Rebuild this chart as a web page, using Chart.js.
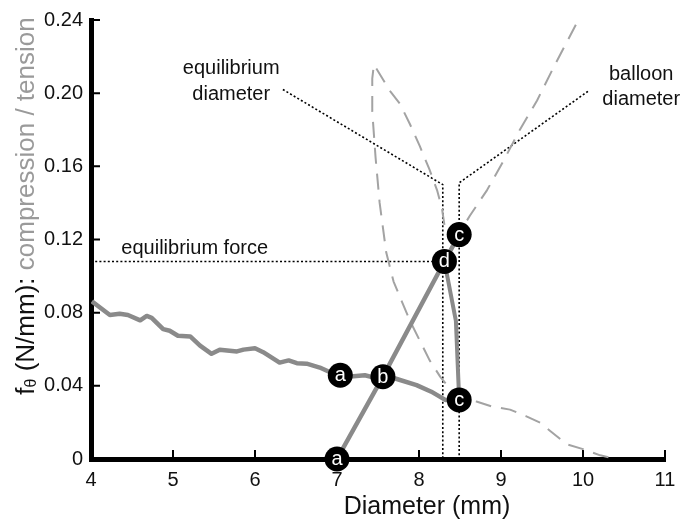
<!DOCTYPE html>
<html>
<head>
<meta charset="utf-8">
<script src="https://cdn.jsdelivr.net/npm/chart.js@4.4.1/dist/chart.umd.min.js"></script>
<style>
    html, body {
        margin: 0;
        padding: 0;
        background: #fff;
    }

    #chart-box {
        width: 694px;
        height: 520px;
        position: relative;
    }
</style>
</head>
<body>
<div id="chart-box">
    <canvas id="hoop-chart"></canvas>
</div>
<script>
// tension curve (solid grey, wavy)
const tensionX = [4.01, 4.23, 4.35, 4.45, 4.60, 4.68, 4.74, 4.88, 4.96, 5.06, 5.21, 5.33, 5.47, 5.57,
    5.78, 5.86, 6.00, 6.10, 6.30, 6.41, 6.51, 6.63, 6.79, 6.95, 7.04, 7.20, 7.34, 7.44, 7.56, 7.71,
    7.97, 8.15, 8.32, 8.49];
const tensionY = [0.0862, 0.0787, 0.0794, 0.0787, 0.0758, 0.0782, 0.0772, 0.0710, 0.0701, 0.0674,
    0.0670, 0.0620, 0.0575, 0.0597, 0.0588, 0.0598, 0.0605, 0.0584, 0.0527, 0.0539, 0.0524, 0.0521,
    0.0500, 0.0467, 0.0458, 0.0453, 0.0458, 0.0446, 0.0449, 0.0440, 0.0404, 0.0368, 0.0323, 0.0323];

// compression curve (dashed grey)
const compressionX = [10.31, 10.21, 10.0, 9.80, 9.60, 9.48, 9.31, 9.11, 8.89, 8.70, 8.52, 8.36, 8.26,
    8.13, 8.01, 7.89, 7.79, 7.69, 7.60, 7.52, 7.47, 7.43, 7.43, 7.45, 7.65, 7.77, 7.89, 8.01, 8.13,
    8.22, 8.28, 8.31, 8.40, 8.50, 8.62, 8.83, 9.03, 9.23, 9.44, 9.64, 9.92, 9.95];
const compressionY = [0.001, 0.002, 0.0054, 0.0081, 0.0153, 0.0198, 0.0233, 0.027, 0.0287, 0.0314,
    0.034, 0.0395, 0.0449, 0.0539, 0.0647, 0.0755, 0.0862, 0.097, 0.113, 0.140, 0.165, 0.190, 0.208,
    0.2156, 0.201, 0.194, 0.183, 0.171, 0.158, 0.147, 0.137, 0.128, 0.122, 0.124, 0.133, 0.147,
    0.163, 0.180, 0.196, 0.214, 0.238, 0.240];

// inflation path a -> b -> d -> c and relaxation d -> c
const inflateX = [7.0, 7.56, 8.31, 8.49];
const inflateY = [0.0, 0.045, 0.108, 0.1227];
const relaxX = [8.31, 8.45, 8.49];
const relaxY = [0.108, 0.0755, 0.0323];

// labelled states
const stateX = [7.0, 7.04, 7.56, 8.31, 8.49, 8.49];
const stateY = [0.0, 0.0458, 0.045, 0.108, 0.1227, 0.0323];
const stateLabels = ['a', 'a', 'b', 'd', 'c', 'c'];

// dotted guides
const forceGuideX = [4.0, 8.31];
const forceGuideY = [0.108, 0.108];
const eqGuideX = [6.34, 8.29, 8.29];
const eqGuideY = [0.202, 0.150, 0.0];
const balloonGuideX = [10.06, 8.49, 8.49];
const balloonGuideY = [0.201, 0.151, 0.0];

// axes
const xTickValues = [4, 5, 6, 7, 8, 9, 10, 11];
const xTickLabels = ['4', '5', '6', '7', '8', '9', '10', '11'];
const yTickValues = [0, 0.04, 0.08, 0.12, 0.16, 0.20, 0.24];
const yTickLabels = ['0', '0.04', '0.08', '0.12', '0.16', '0.20', '0.24'];

const FONT = '"Liberation Sans", Arial, Helvetica, sans-serif';

function toPoints(xs, ys) {
    return xs.map((x, i) => ({ x, y: ys[i] }));
}

function lineSet(xs, ys, style) {
    return Object.assign({
        type: 'scatter',
        data: toPoints(xs, ys),
        showLine: true,
        fill: false,
        tension: 0,
        pointRadius: 0,
        pointHoverRadius: 0,
        borderCapStyle: 'butt',
        borderJoinStyle: 'round'
    }, style);
}

const dotted = { borderColor: '#000', borderWidth: 1.6, borderDash: [2, 2.2], order: 4 };
const solidGrey = { borderColor: '#8a8a8a', borderWidth: 4.5, order: 2 };

const insideTicks = {
    id: 'insideTicks',
    beforeDatasetsDraw(chart) {
        const { ctx, chartArea, scales } = chart;
        ctx.save();
        ctx.strokeStyle = '#000';
        ctx.lineWidth = 2;
        ctx.beginPath();
        xTickValues.forEach(v => {
            const px = scales.x.getPixelForValue(v);
            ctx.moveTo(px, chartArea.bottom);
            ctx.lineTo(px, chartArea.bottom - 9);
        });
        yTickValues.forEach(v => {
            const py = scales.y.getPixelForValue(v);
            ctx.moveTo(chartArea.left, py);
            ctx.lineTo(chartArea.left + 9, py);
        });
        ctx.stroke();
        ctx.restore();
    }
};

const annotations = {
    id: 'annotations',
    afterDraw(chart) {
        const { ctx, scales } = chart;
        const sx = v => scales.x.getPixelForValue(v);
        const sy = v => scales.y.getPixelForValue(v);
        ctx.save();

        // letters in the black circles
        const meta = chart.getDatasetMeta(0);
        ctx.fillStyle = '#fff';
        ctx.font = '20px ' + FONT;
        ctx.textAlign = 'center';
        ctx.textBaseline = 'middle';
        meta.data.forEach((pt, i) => {
            ctx.fillText(stateLabels[i], pt.x, pt.y + 0.5);
        });

        // guide labels
        ctx.fillStyle = '#111';
        ctx.font = '20px ' + FONT;
        ctx.textAlign = 'left';
        ctx.fillText('equilibrium force', sx(4.37), sy(0.115));
        ctx.textAlign = 'center';
        ctx.fillText('equilibrium', sx(5.71), sy(0.2135));
        ctx.fillText('diameter', sx(5.71), sy(0.1995));
        ctx.fillText('balloon', sx(10.71), sy(0.210));
        ctx.fillText('diameter', sx(10.71), sy(0.1965));

        // x title
        ctx.font = '25px ' + FONT;
        ctx.fillStyle = '#111';
        ctx.fillText('Diameter (mm)', 427, 507);

        // y title, two colours, rotated
        ctx.translate(27, 206);
        ctx.rotate(-Math.PI / 2);
        ctx.textAlign = 'left';
        ctx.textBaseline = 'middle';
        const big = '26px ' + FONT;
        const small = '16px ' + FONT;
        const parts = [
            { text: 'f', font: big, color: '#111', dy: 0 },
            { text: 'θ', font: small, color: '#111', dy: 5 },
            { text: ' (N/mm): ', font: big, color: '#111', dy: 0 },
            { text: 'compression / tension', font: big, color: '#9a9a9a', dy: 0 }
        ];
        let total = 0;
        parts.forEach(p => {
            ctx.font = p.font;
            p.w = ctx.measureText(p.text).width;
            total += p.w;
        });
        let cursor = -total / 2;
        parts.forEach(p => {
            ctx.font = p.font;
            ctx.fillStyle = p.color;
            ctx.fillText(p.text, cursor, p.dy);
            cursor += p.w;
        });
        ctx.restore();
    }
};

const chartElement = document.getElementById('hoop-chart');

new Chart(chartElement, {
    type: 'scatter',
    data: {
        datasets: [
            {
                type: 'scatter',
                data: toPoints(stateX, stateY),
                pointRadius: 12.5,
                pointHoverRadius: 12.5,
                pointBackgroundColor: '#000',
                pointBorderColor: '#000',
                pointBorderWidth: 0,
                showLine: false,
                clip: false,
                order: 0
            },
            lineSet(inflateX, inflateY, Object.assign({}, solidGrey, { order: 1 })),
            lineSet(relaxX, relaxY, Object.assign({}, solidGrey, { borderWidth: 4, order: 1 })),
            lineSet(tensionX, tensionY, solidGrey),
            lineSet(compressionX, compressionY, {
                borderColor: '#a3a3a3',
                borderWidth: 2,
                borderDash: [16, 10],
                order: 3
            }),
            lineSet(forceGuideX, forceGuideY, dotted),
            lineSet(eqGuideX, eqGuideY, dotted),
            lineSet(balloonGuideX, balloonGuideY, dotted)
        ]
    },
    options: {
        responsive: true,
        maintainAspectRatio: false,
        animation: false,
        layout: {
            padding: { top: 15, right: 29, left: 0, bottom: 0 }
        },
        plugins: {
            legend: { display: false },
            tooltip: { enabled: false },
            title: { display: false }
        },
        scales: {
            x: {
                type: 'linear',
                min: 4,
                max: 11,
                afterBuildTicks: scale => {
                    scale.ticks = xTickValues.map(value => ({ value }));
                },
                afterFit: scale => {
                    scale.height = 61;
                },
                ticks: {
                    padding: 9,
                    color: '#111',
                    font: { family: FONT, size: 20 },
                    callback: (value, index) => xTickLabels[index]
                },
                grid: { drawOnChartArea: false, drawTicks: false },
                border: { display: true, width: 5, color: '#000' }
            },
            y: {
                type: 'linear',
                min: 0,
                max: 0.24,
                afterBuildTicks: scale => {
                    scale.ticks = yTickValues.map(value => ({ value }));
                },
                afterFit: scale => {
                    scale.width = 91;
                },
                ticks: {
                    padding: 8,
                    color: '#111',
                    font: { family: FONT, size: 20 },
                    callback: (value, index) => yTickLabels[index]
                },
                grid: { drawOnChartArea: false, drawTicks: false },
                border: { display: true, width: 5, color: '#000' }
            }
        }
    },
    plugins: [insideTicks, annotations]
});
</script>
</body>
</html>
